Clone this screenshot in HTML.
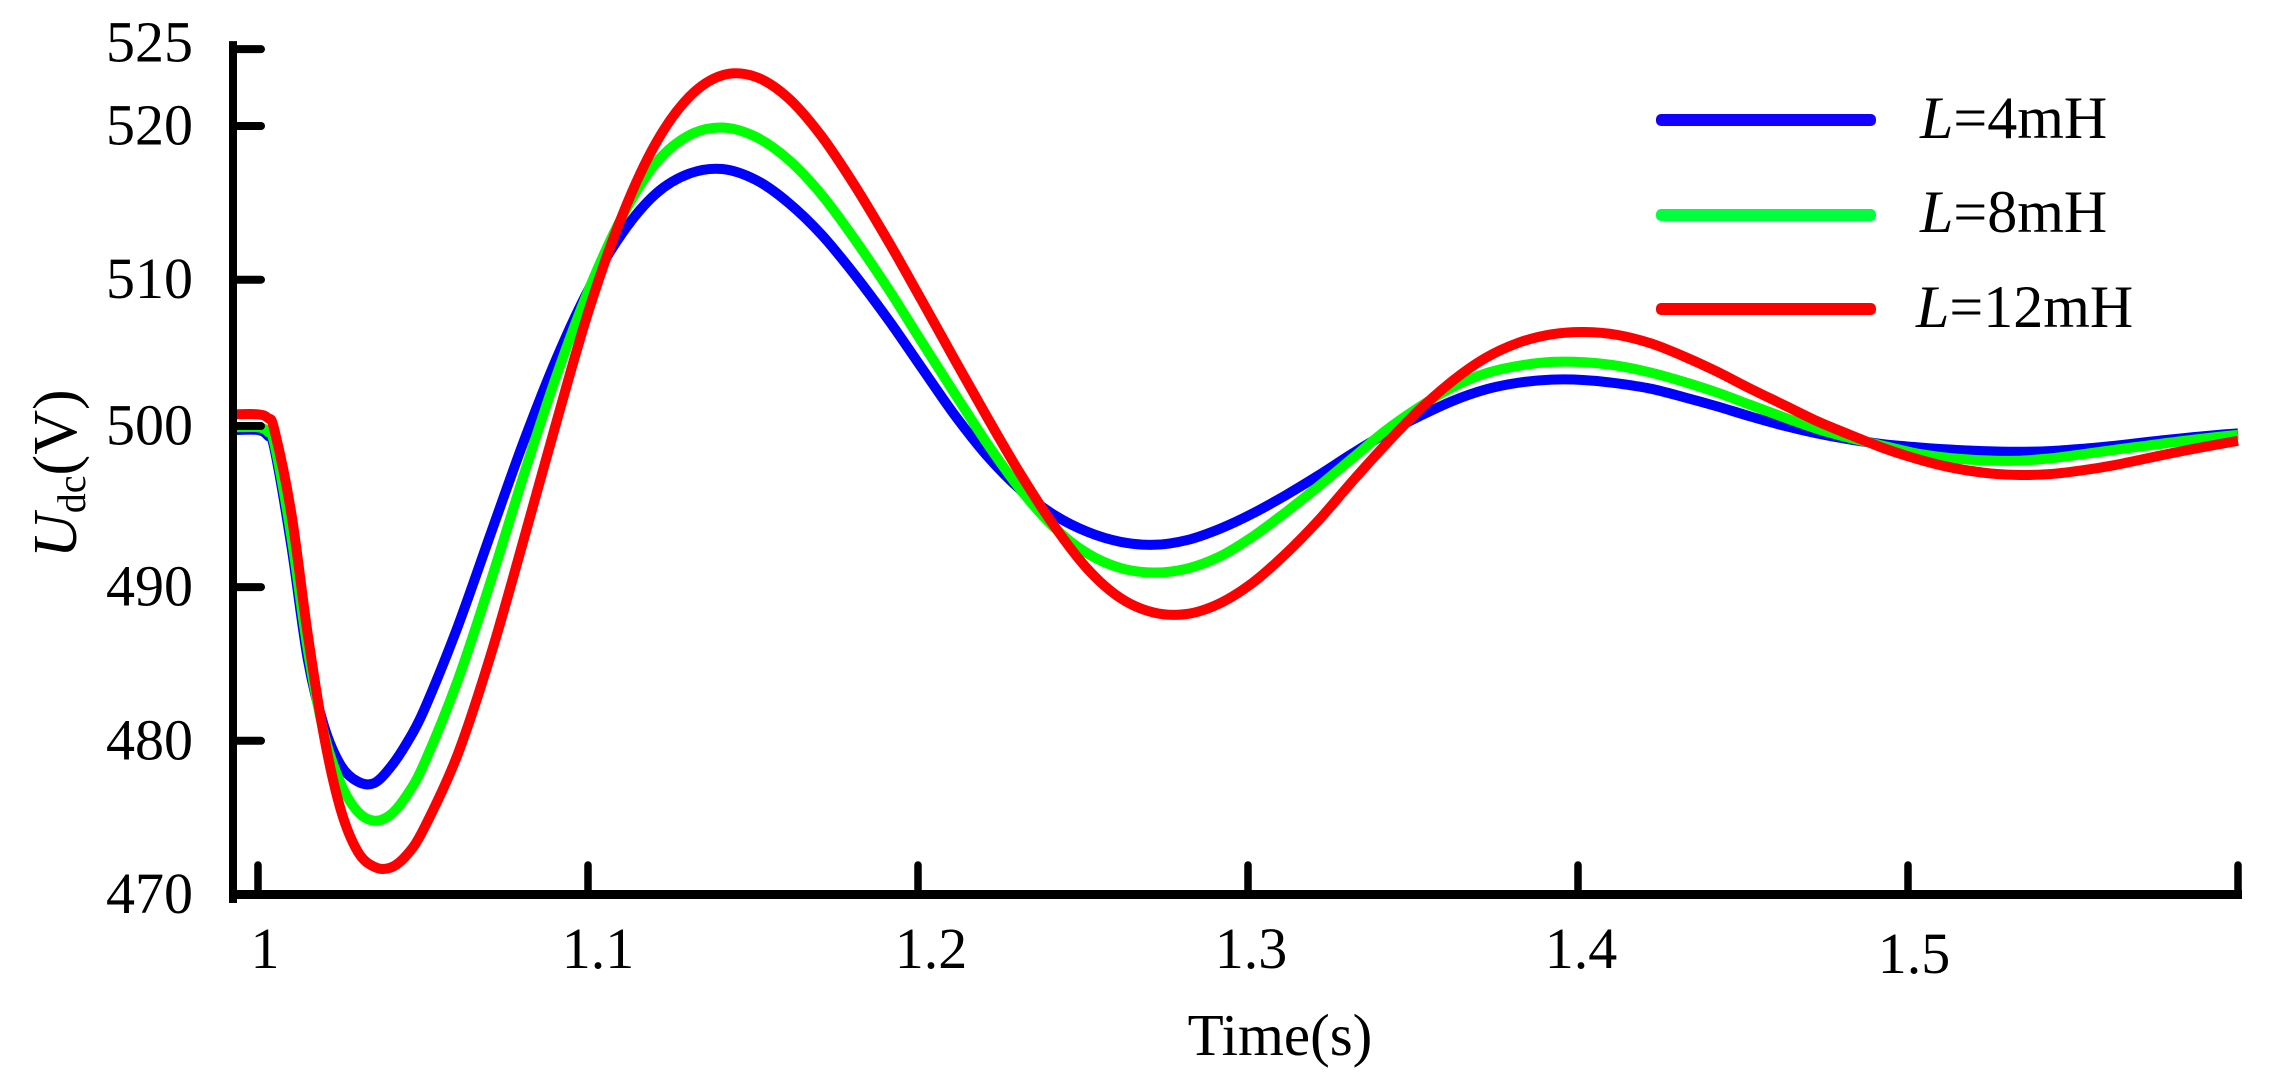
<!DOCTYPE html>
<html lang="en">
<head>
<meta charset="utf-8">
<title>DC bus voltage response</title>
<style>
  html, body { margin: 0; padding: 0; background: #fff; }
  svg { display: block; }
  text { font-family: "Liberation Serif", "Times New Roman", serif; font-size: 58px; fill: #000; }
</style>
</head>
<body>
<svg id="chart" xmlns="http://www.w3.org/2000/svg" width="2281" height="1087" viewBox="0 0 2281 1087">
  <rect x="0" y="0" width="2281" height="1087" fill="#ffffff"/>
  <g id="series-layer"></g>
  <g id="axis-layer"></g>
  <text x="1280" y="1055" text-anchor="middle" style="font-size:59px">Time(s)</text>
  <text transform="translate(76,558) rotate(-90)" style="font-size:62px"><tspan font-style="italic">U</tspan><tspan style="font-size:40px" dy="9">dc</tspan><tspan dy="-9">(V)</tspan></text>
  <g>
    <rect x="1656" y="114" width="220" height="12" rx="5" fill="#1400ff"/>
    <text x="1920" y="138" style="font-size:60px"><tspan font-style="italic">L</tspan>=4mH</text>
    <rect x="1656" y="209" width="220" height="12" rx="5" fill="#00ff3c"/>
    <text x="1920" y="232" style="font-size:60px"><tspan font-style="italic">L</tspan>=8mH</text>
    <rect x="1656" y="303" width="220" height="12" rx="5" fill="#ff0000"/>
    <text x="1916" y="327" style="font-size:60px"><tspan font-style="italic">L</tspan>=12mH</text>
  </g>
</svg>
<script>
const timeValues = [0.993,1.0,1.003,1.005,1.0101,1.0151,1.0201,1.0251,1.0302,1.0352,1.0402,1.0452,1.0503,1.0603,1.0704,1.0804,1.0905,1.1005,1.1106,1.1206,1.1307,1.1407,1.1508,1.1608,1.1709,1.1809,1.191,1.201,1.2111,1.2211,1.2312,1.2412,1.2513,1.2613,1.2714,1.2814,1.2915,1.3015,1.3116,1.3216,1.3317,1.3418,1.3518,1.3619,1.3719,1.382,1.392,1.4021,1.4121,1.4222,1.4322,1.4423,1.4523,1.4624,1.4724,1.4825,1.4925,1.5026,1.5126,1.5227,1.5327,1.5428,1.5528,1.5629,1.5729,1.583,1.593,1.6];
const seriesL4 = [500.22,500.22,499.85,499.0,492.7,485.3,480.9,478.4,477.35,477.25,478.3,479.9,482.0,487.3,493.4,499.4,504.9,509.5,513.1,515.6,516.9,517.2,516.5,515.0,512.9,510.3,507.4,504.3,501.2,498.5,496.3,494.7,493.6,492.95,492.75,493.05,493.8,494.8,496.0,497.3,498.7,500.0,501.1,502.1,502.85,503.3,503.5,503.47,503.25,502.9,502.35,501.75,501.1,500.5,500.0,499.6,499.3,499.1,498.95,498.85,498.8,498.85,499.0,499.2,499.45,499.68,499.88,500.0];
const seriesL8 = [500.4,500.4,500.1,499.3,493.3,485.9,480.4,477.2,475.4,474.8,475.2,476.5,478.5,483.8,490.3,497.2,503.8,509.5,514.2,517.6,519.4,519.9,519.3,517.8,515.5,512.6,509.4,506.0,502.6,499.3,496.3,493.9,492.2,491.25,490.95,491.2,492.0,493.3,494.9,496.6,498.4,500.2,501.7,503.0,503.9,504.4,504.65,504.63,504.4,503.95,503.35,502.65,501.85,501.05,500.3,499.7,499.2,498.7,498.4,498.25,498.22,498.37,498.64,498.94,499.22,499.5,499.75,499.9];
const seriesL12 = [501.24,501.24,501.0,500.2,494.8,486.9,480.2,475.5,472.8,471.8,471.75,472.6,474.3,479.0,485.5,493.0,500.8,508.2,514.3,518.9,521.9,523.3,523.2,521.8,519.3,516.1,512.5,508.7,504.8,501.0,497.3,494.0,491.2,489.3,488.35,488.25,488.95,490.3,492.2,494.4,496.9,499.3,501.5,503.4,504.9,505.9,506.45,506.6,506.4,505.85,505.0,504.0,502.9,501.85,500.8,499.9,499.05,498.35,497.8,497.45,497.3,497.35,497.6,497.95,498.4,498.85,499.25,499.52];
const xTickValues = [1.0,1.1,1.2,1.3,1.4,1.5,1.6];
const xTickLabels = ["1","1.1","1.2","1.3","1.4","1.5",""];
const yTickValues = [470,480,490,500.48,510,520,525];
const yTickLabels = ["470","480","490","500","510","520","525"];

const SVG_NS = "http://www.w3.org/2000/svg";
const xScale = t => 258 + (t - 1) * 3300;
const yScale = v => 894.5 - (v - 470) * 15.37;

// Small hand-placed label offsets seen in the source figure.
const xLabelShift = { "1": 7, "1.1": 10, "1.2": 13, "1.3": 3, "1.4": 3, "1.5": 6 };

function smoothPath(xs, ys) {
  let d = "M" + xs[0].toFixed(1) + "," + ys[0].toFixed(1);
  for (let i = 0; i < xs.length - 1; i++) {
    const a = Math.max(i - 1, 0), b = Math.min(i + 2, xs.length - 1);
    const c1x = xs[i] + (xs[i + 1] - xs[a]) / 6, c1y = ys[i] + (ys[i + 1] - ys[a]) / 6;
    const c2x = xs[i + 1] - (xs[b] - xs[i]) / 6, c2y = ys[i + 1] - (ys[b] - ys[i]) / 6;
    d += "C" + c1x.toFixed(1) + "," + c1y.toFixed(1) + " " + c2x.toFixed(1) + "," + c2y.toFixed(1) + " " + xs[i + 1].toFixed(1) + "," + ys[i + 1].toFixed(1);
  }
  return d;
}

const seriesLayer = document.getElementById("series-layer");
const axisLayer = document.getElementById("axis-layer");

function drawSeries(values, color, name) {
  const p = document.createElementNS(SVG_NS, "path");
  p.setAttribute("d", smoothPath(timeValues.map(xScale), values.map(yScale)));
  p.setAttribute("fill", "none");
  p.setAttribute("stroke", color);
  p.setAttribute("stroke-width", "10");
  p.setAttribute("stroke-linejoin", "round");
  
  
  seriesLayer.appendChild(p);
}
drawSeries(seriesL4, "#0000ff", "series-l-4mh");
drawSeries(seriesL8, "#00ff00", "series-l-8mh");
drawSeries(seriesL12, "#ff0000", "series-l-12mh");

function addLine(x1, y1, x2, y2, width, cap, name) {
  const l = document.createElementNS(SVG_NS, "line");
  l.setAttribute("x1", x1);
  l.setAttribute("y1", y1);
  l.setAttribute("x2", x2);
  l.setAttribute("y2", y2);
  l.setAttribute("stroke", "#000");
  l.setAttribute("stroke-width", width);
  l.setAttribute("stroke-linecap", cap);
  
  
  axisLayer.appendChild(l);
}
function addLabel(x, y, anchor, str, name) {
  const t = document.createElementNS(SVG_NS, "text");
  t.setAttribute("x", x);
  t.setAttribute("y", y);
  t.setAttribute("text-anchor", anchor);
  t.textContent = str;
  
  
  axisLayer.appendChild(t);
}

addLine(233, yScale(525) - 4, 233, yScale(470) + 4.5, 8, "square", "y-axis-line");
addLine(230, yScale(470), xScale(1.6) + 4, yScale(470), 9, "butt", "x-axis-line");

yTickValues.forEach((v, i) => {
  addLine(235, yScale(v), 261, yScale(v), 8, "round", "y-tick-" + yTickLabels[i]);
  const baselineShift = yTickLabels[i] === "525" ? 12.5 : 18.5;
  addLabel(193, yScale(v) + baselineShift, "end", yTickLabels[i], "y-tick-label-" + yTickLabels[i]);
});

xTickValues.forEach((v, i) => {
  addLine(xScale(v), 865, xScale(v), 890, 7.5, "round", "x-tick-" + v);
  if (xTickLabels[i]) {
    const baseline = xTickLabels[i] === "1.5" ? 973 : 968;
    addLabel(xScale(v) + xLabelShift[xTickLabels[i]], baseline, "middle", xTickLabels[i], "x-tick-label-" + xTickLabels[i]);
  }
});
</script>
</body>
</html>
